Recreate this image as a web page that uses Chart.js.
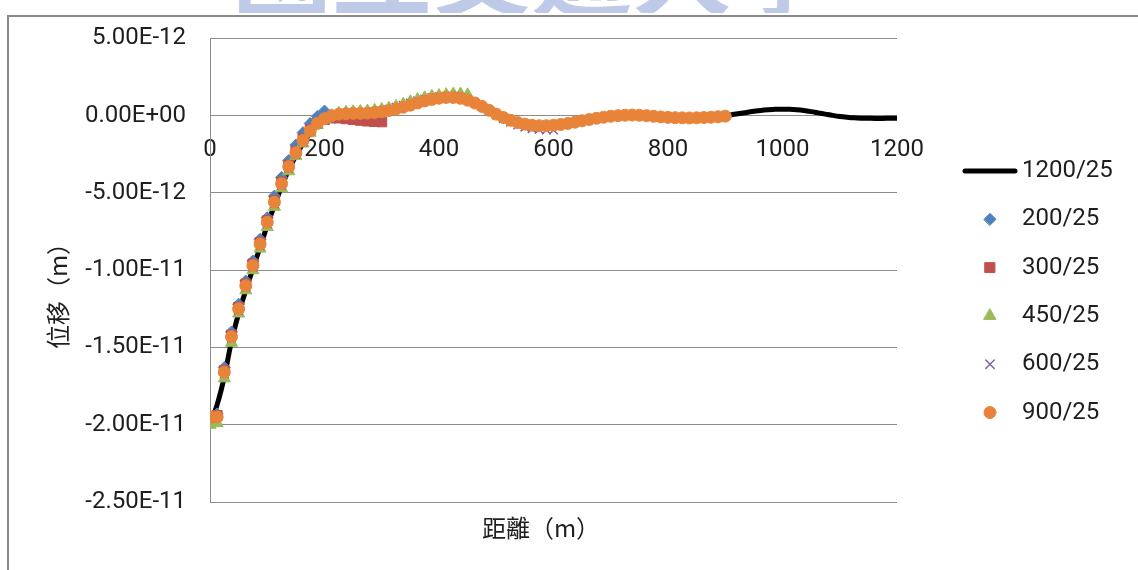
<!DOCTYPE html>
<html>
<head>
<meta charset="utf-8">
<script src="https://cdn.jsdelivr.net/npm/chart.js@4/dist/chart.umd.min.js"></script>
<style>
  html, body { margin: 0; padding: 0; background: #fff; overflow: hidden; }
  #wrap { position: relative; width: 1138px; height: 570px; }
  #stamp { position: absolute; left: 0; top: 0; width: 1138px; height: 13px; overflow: hidden; }
  #stamp span { position: absolute; left: 232px; top: -84px; font: 700 100px/100px "Noto Sans CJK TC"; color: #bfcae8; white-space: nowrap; }
  #frame { position: absolute; left: 7px; top: 15px; width: 1200px; height: 600px; border: 2px solid #8a8a8a; }
  #chart { position: absolute; left: 0; top: 0; }
</style>
</head>
<body>
<div id="wrap">
  <div id="stamp"><span>國立交通大學</span></div>
  <div id="frame"></div>
  <canvas id="chart" width="1138" height="570"></canvas>
</div>
<script>
// samples are taken every 12.5 m along the line, starting at 0 m
const STEP = 12.5;

const seriesNames = ["1200/25", "200/25", "300/25", "450/25", "600/25", "900/25"];
const xTitle = "距離（m）";
const yTitle = "位移（m）";

// displacement values below are in units of 1E-12 m
const disp1200 = [
  -20.0, -18.7, -16.9, -14.6, -12.8, -11.3, -9.9, -8.5, -7.1, -5.8, -4.6, -3.5, -2.6, -1.8, -1.1, -0.6, -0.25,
  -0.05, 0.05, 0.1, 0.12, 0.14, 0.16, 0.2, 0.25,
  0.33, 0.43, 0.55, 0.68, 0.82, 0.95, 1.05, 1.13,
  1.18, 1.18, 1.12, 1.0, 0.82, 0.6, 0.35, 0.1,
  -0.12, -0.3, -0.45, -0.55, -0.62, -0.65, -0.65, -0.62,
  -0.57, -0.5, -0.42, -0.33, -0.25, -0.17, -0.1, -0.04,
  0.0, 0.03, 0.04, 0.03, 0.0, -0.04, -0.08, -0.11,
  -0.13, -0.14, -0.15, -0.14, -0.12, -0.1, -0.05, 0.0,
  0.07, 0.14, 0.21, 0.28, 0.34, 0.38, 0.41, 0.42,
  0.41, 0.38, 0.33, 0.26, 0.18, 0.1, 0.02, -0.05,
  -0.1, -0.14, -0.16, -0.17, -0.18, -0.18, -0.17, -0.17
];

const disp200 = [
  -19.6, -19.3, -16.3, -14.0, -12.2, -10.7, -9.4, -8.0, -6.6, -5.2, -4.0, -2.9, -1.9, -1.1, -0.5, -0.05, 0.3
];

const disp300 = [
  -19.5, -19.4, -16.5, -14.2, -12.4, -10.9, -9.6, -8.2, -6.8, -5.5, -4.3, -3.2, -2.3, -1.5, -0.9, -0.5, -0.25,
  -0.15, -0.15, -0.2, -0.25, -0.3, -0.35, -0.38, -0.4
];

const disp450 = [
  -20.0, -19.9, -17.0, -14.7, -12.8, -11.3, -10.0, -8.6, -7.2, -5.9, -4.7, -3.6, -2.6, -1.8, -1.1, -0.6, -0.25,
  0.0, 0.15, 0.22, 0.25, 0.27, 0.3, 0.35, 0.4,
  0.48, 0.6, 0.74, 0.9, 1.04, 1.16, 1.25, 1.3,
  1.36, 1.4, 1.4, 1.35
];

const disp600 = [
  -19.6, -19.5, -16.7, -14.4, -12.6, -11.1, -9.8, -8.4, -7.0, -5.7, -4.5, -3.4, -2.5, -1.7, -1.05, -0.55, -0.25,
  -0.05, 0.08, 0.12, 0.15, 0.17, 0.2, 0.25, 0.32,
  0.42, 0.55, 0.68, 0.82, 0.96, 1.08, 1.17, 1.23,
  1.26, 1.25, 1.18, 1.05, 0.85, 0.6, 0.33, 0.05,
  -0.2, -0.42, -0.6, -0.74, -0.84, -0.9, -0.93, -0.93
];

const disp900 = [
  -19.5, -19.5, -16.6, -14.3, -12.5, -11.0, -9.7, -8.3, -6.9, -5.6, -4.4, -3.3, -2.4, -1.6, -1.0, -0.5, -0.2,
  0.0, 0.1, 0.12, 0.15, 0.15, 0.17, 0.2, 0.25,
  0.33, 0.43, 0.55, 0.68, 0.82, 0.95, 1.05, 1.13,
  1.18, 1.18, 1.12, 1.0, 0.82, 0.6, 0.35, 0.1,
  -0.12, -0.3, -0.45, -0.55, -0.62, -0.65, -0.65, -0.62,
  -0.57, -0.5, -0.42, -0.33, -0.25, -0.17, -0.1, -0.04,
  0.0, 0.03, 0.04, 0.03, 0.0, -0.04, -0.08, -0.11,
  -0.13, -0.14, -0.15, -0.14, -0.12, -0.1, -0.07, -0.03
];

const toPoints = vals => vals.map((v, i) => ({ x: i * STEP, y: v }));

// 5 -> "5.00E-12", 0 -> "0.00E+00"
function sciLabel(v) {
  const [m, e] = (v * 1e-12).toExponential(2).split("e");
  const n = Math.abs(parseInt(e, 10));
  return `${m}E${e[0] === "-" ? "-" : "+"}${String(n).padStart(2, "0")}`;
}

const TICK_FONT = { family: "Roboto", size: 24 };
const TEXT = "#1e1e1e";
const GRID = "#8c8c8c";

function markerSet(label, vals, style, color, radius, order) {
  return {
    label,
    data: toPoints(vals),
    showLine: false,
    pointStyle: style,
    pointRadius: radius,
    pointHoverRadius: radius,
    backgroundColor: color,
    borderColor: color,
    borderWidth: style === "crossRot" ? 1.5 : 1,
    order
  };
}

// side legend, one row per series, drawn straight onto the canvas
const sideLegend = {
  id: "sideLegend",
  afterDraw(chart) {
    const { ctx } = chart;
    ctx.save();
    ctx.font = "24px Roboto";
    ctx.textBaseline = "middle";
    chart.data.datasets.forEach((ds, i) => {
      const y = 171 + i * 48.3;
      ctx.strokeStyle = ds.borderColor;
      ctx.fillStyle = ds.backgroundColor;
      ctx.lineWidth = ds.borderWidth;
      if (ds.showLine) {
        ctx.lineCap = "round";
        ctx.beginPath();
        ctx.moveTo(965, y);
        ctx.lineTo(1015, y);
        ctx.stroke();
      } else {
        Chart.helpers.drawPoint(ctx, {
          pointStyle: ds.pointStyle, radius: ds.pointRadius, rotation: 0, borderWidth: ds.borderWidth
        }, 990, y);
      }
      ctx.fillStyle = TEXT;
      ctx.fillText(ds.label, 1022, y);
    });
    ctx.restore();
  }
};

const axisTitles = {
  id: "axisTitles",
  afterDraw(chart) {
    const { ctx } = chart;
    ctx.save();
    ctx.fillStyle = TEXT;
    ctx.font = '24px "Noto Sans CJK TC"';
    ctx.textAlign = "center";
    ctx.textBaseline = "middle";
    ctx.fillText(xTitle, 541, 528);
    ctx.translate(58, 290);
    ctx.rotate(-Math.PI / 2);
    ctx.fillText(yTitle, 0, 0);
    ctx.restore();
  }
};

new Chart(document.getElementById("chart"), {
  type: "scatter",
  data: {
    datasets: [
      {
        label: seriesNames[0],
        data: toPoints(disp1200),
        showLine: true,
        tension: 0.3,
        pointRadius: 0,
        borderColor: "#000",
        backgroundColor: "#000",
        borderWidth: 5,
        borderCapStyle: "round",
        order: 6
      },
      markerSet(seriesNames[1], disp200, "rectRot", "#4f81bd", 6, 5),
      markerSet(seriesNames[2], disp300, "rect", "#c0504d", 7, 4),
      markerSet(seriesNames[3], disp450, "triangle", "#9bbb59", 7, 3),
      markerSet(seriesNames[4], disp600, "crossRot", "#8064a2", 6, 2),
      markerSet(seriesNames[5], disp900, "circle", "#e8843a", 6, 1)
    ]
  },
  options: {
    responsive: false,
    animation: false,
    layout: { padding: { left: 0, right: 241, top: 37, bottom: 68 } },
    plugins: {
      legend: { display: false },
      tooltip: { enabled: false }
    },
    scales: {
      x: {
        type: "linear",
        position: { y: 0 },
        min: 0,
        max: 1200,
        grid: { display: false, drawTicks: false },
        border: { display: false },
        ticks: { stepSize: 200, padding: 20, color: TEXT, font: TICK_FONT, maxRotation: 0, callback: v => String(v) }
      },
      y: {
        min: -25,
        max: 5,
        afterFit: scale => { scale.width = 210; },
        grid: { color: GRID, drawTicks: false },
        border: { display: true, color: GRID },
        ticks: { stepSize: 5, padding: 24, color: TEXT, font: TICK_FONT, callback: v => sciLabel(v) }
      }
    }
  },
  plugins: [sideLegend, axisTitles]
});
</script>
</body>
</html>
